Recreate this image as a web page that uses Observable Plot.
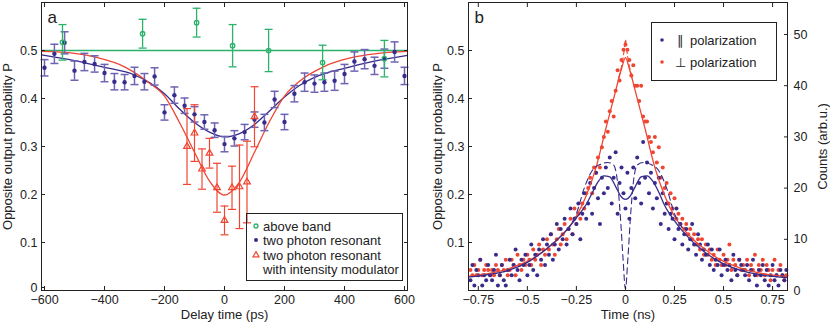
<!DOCTYPE html>
<html><head><meta charset="utf-8">
<script src="https://cdn.jsdelivr.net/npm/d3@7"></script>
<script src="https://cdn.jsdelivr.net/npm/@observablehq/plot@0.6"></script>
<style>
body{margin:0;background:#fff;font-family:"Liberation Sans",Arial,sans-serif;}
#wrap{position:relative;width:830px;height:325px;overflow:hidden;}
.panel{position:absolute;top:0;}
#overlay{position:absolute;left:0;top:0;pointer-events:none;}
</style></head><body>
<div id="wrap"><div id="pa" class="panel" style="left:0"></div><div id="pb" class="panel" style="left:415px"></div></div>
<script>
// ---------- Panel a data ----------
const bandDelay = [-540, -273, -93, 27, 147, 327, 533];
const bandP     = [0.517, 0.535, 0.558, 0.51, 0.5, 0.475, 0.483];
const bandErr   = [0.037, 0.03, 0.03, 0.044, 0.044, 0.036, 0.038];
const bandFitP  = 0.5;

const resDelay = [-600,-567,-533,-500,-467,-433,-400,-367,-333,-300,-267,-233,-200,-167,-133,-100,-67,-33,0,33,67,100,133,167,200,233,267,300,333,367,400,433,467,500,533,567,600];
const resP     = [0.464,0.493,0.516,0.458,0.476,0.472,0.453,0.435,0.434,0.447,0.435,0.446,0.371,0.407,0.385,0.367,0.351,0.334,0.305,0.317,0.330,0.356,0.350,0.398,0.351,0.410,0.434,0.431,0.434,0.437,0.451,0.477,0.482,0.468,0.483,0.497,0.447];
const resErr   = [0.017,0.02,0.023,0.02,0.018,0.017,0.018,0.017,0.016,0.018,0.017,0.018,0.016,0.017,0.016,0.016,0.015,0.015,0.016,0.016,0.016,0.016,0.017,0.017,0.016,0.017,0.019,0.018,0.019,0.02,0.02,0.02,0.02,0.018,0.02,0.021,0.018];
const resFitDelay = [-610,-500,-400,-300,-250,-200,-150,-100,-50,0,50,100,150,200,250,300,400,500,610];
const resFitP     = [0.491,0.479,0.465,0.449,0.433,0.410,0.378,0.350,0.330,0.320,0.327,0.346,0.374,0.403,0.427,0.444,0.463,0.478,0.490];

const modDelay = [-125,-100,-75,-50,-25,0,25,50,75,100];
const modP     = [0.300,0.328,0.253,0.286,0.214,0.146,0.214,0.216,0.226,0.362];
const modErr   = [0.079,0.059,0.042,0.031,0.051,0.030,0.045,0.087,0.085,0.0625];
const modFitDelay = [-610,-500,-430,-330,-250,-200,-150,-100,-50,0,50,100,150,200,250,330,430,500,610];
const modFitP     = [0.498,0.494,0.486,0.465,0.432,0.405,0.350,0.288,0.228,0.199,0.226,0.288,0.352,0.405,0.436,0.466,0.486,0.493,0.498];

const aXTicks = [-600,-400,-200,0,200,400,600];
const aYTicks = [0,0.1,0.2,0.3,0.4,0.5];

// ---------- Panel b data ----------
const binStart = -0.79, binStep = 0.01; // time bins (ns)
const perpCounts = [4,3,5,3,4,6,3,4,5,4,3,4,3,5,4,3,5,4,6,3,
  4,6,5,3,7,5,4,6,5,7, 6,5,8,6,7,9,5,8,7,10, 8,11,9,7,10,12,9,11,13,10,
  12,14,11,16,13,15,14,17,16,19, 20,22,19,24,23,26,24,28,30,33, 31,35,37,34,39,43,41,45,47,48,
  47,45,42,44,40,40,37,40,34,33, 33,30,29,27,30,25,28,22,24,20, 21,17,19,16,18,14,15,13,14,12,
  13,11,12,10,11,9,10,8,10,7, 9,7,8,6,7,5,8,6,5,7, 5,6,9,4,6,5,3,6,4,5, 4,6,3,5,4,7,3,5,4,6,
  3,5,4,2,4,6,3,4,5,3,2,3];
const parCounts = [2,5,1,4,3,6,1,3,2,5, 3,2,4,7,1,3,5,2,1,4,
  6,3,5,8,4,2,6,5,7,3, 5,9,4,7,3,8,6,10,5,9, 7,11,6,9,13,8,12,10,14,9,
  12,16,11,14,13,17,10,15,19,14, 17,21,15,20,23,18,13,22,19,24, 20,26,17,22,27,15,21,24,19,16,
  23,14,20,24,18,26,21,17,29,22, 25,19,23,16,21,18,22,13,19,15, 17,12,15,14,10,16,12,13,9,11,
  12,8,10,13,9,7,11,9,6,8, 7,9,5,8,4,6,5,8,3,5, 6,4,5,2,7,4,3,6,5,4, 3,5,2,4,6,3,1,4,3,5,
  2,4,1,3,5,2,3,1,4,3,2,4];
const perpFitT = [-0.80,-0.75,-0.70,-0.65,-0.60,-0.55,-0.50,-0.45,-0.40,-0.35,-0.30,-0.25,-0.20,-0.15,-0.10,-0.05,-0.02,0,0.02,0.05,0.10,0.15,0.20,0.25,0.30,0.35,0.40,0.45,0.50,0.55,0.60,0.65,0.70,0.75,0.80,0.826];
const perpFitC = [2.8,3.0,3.3,3.7,4.2,4.9,5.7,6.8,8.2,9.8,11.8,14.5,18.5,24,31.6,39,43.3,45.5,43.3,39,31.6,24,18.5,14.5,11.8,9.8,8.2,6.8,5.7,4.9,4.2,3.7,3.3,3.0,2.8,2.7];
const perpTheoryT = [-0.035,-0.02,-0.008,0,0.008,0.02,0.035];
const perpTheoryC = [41.5,43.8,46.5,49,46.5,43.8,41.5];
const parFitT = [-0.80,-0.70,-0.60,-0.50,-0.40,-0.30,-0.25,-0.20,-0.17,-0.14,-0.11,-0.08,-0.05,-0.025,0,0.025,0.05,0.08,0.11,0.14,0.17,0.20,0.25,0.30,0.40,0.50,0.60,0.70,0.826];
const parFitC = [2.6,3.1,3.9,5.5,8.2,11.8,14.2,16.8,19,21.2,22.4,22.2,20.3,18.5,17.8,18.5,20.3,22.2,22.4,21.3,19.2,16.6,13.6,11.2,7.6,5.2,3.8,3.0,2.5];
const parTheoryT = [-0.30,-0.25,-0.21,-0.17,-0.13,-0.09,-0.06,-0.04,-0.025,-0.012,0,0.012,0.025,0.04,0.06,0.09,0.13,0.17,0.21,0.25,0.30];
const parTheoryC = [11.8,15,20,23.4,24.6,25,24.5,21,14,6,0.3,6,14,21,24.5,25,24.6,23.4,20,15,11.8];

const bXTicks = [-0.75,-0.5,-0.25,0,0.25,0.5,0.75];
const bPTicks = [0.1,0.2,0.3,0.4,0.5];
const bCountTicks = [0,10,20,30,40,50];
const countsPerP = 93.75; // right (counts) axis vs left (P) axis

// ---------- styles ----------
const green = "#2bb36c", blue = "#372c8c", blueErr = "#6e64b3", red = "#ef4632";
const font = "Liberation Sans, Arial, Helvetica, sans-serif";
const cap = {draw(ctx, size){ const w = Math.sqrt(size/Math.PI); ctx.moveTo(-w,0); ctx.lineTo(w,0); }};
const minus = v => (v < 0 ? "\u2212" : "") + Math.abs(v);
const fmtP = d => d === 0 ? "0" : d.toFixed(1);
const errRows = (xs, ys, es) => xs.map((x,i) => ({x, y: ys[i], lo: ys[i]-es[i], hi: ys[i]+es[i]}));
const xyRows = (xs, ys) => xs.map((x,i) => ({x, y: ys[i]}));
function errMarks(rows, color, w){
  return [
    Plot.ruleX(rows, {x:"x", y1:"lo", y2:"hi", stroke: color, strokeWidth: w}),
    Plot.dot(rows, {x:"x", y:"lo", symbol: cap, r: 4, stroke: color, fill: "none", strokeWidth: w}),
    Plot.dot(rows, {x:"x", y:"hi", symbol: cap, r: 4, stroke: color, fill: "none", strokeWidth: w})
  ];
}

const band = errRows(bandDelay, bandP, bandErr);
const res = errRows(resDelay, resP, resErr);
const mod = errRows(modDelay, modP, modErr);

const pa = Plot.plot({
  width: 415, height: 325, marginLeft: 41, marginRight: 8, marginTop: 2, marginBottom: 35,
  x: {domain: [-610, 610]}, y: {domain: [0, 0.6]},
  style: {fontFamily: font, fontSize: "12.5px", color: "#222", background: "transparent"},
  marks: [
    Plot.ruleY([bandFitP], {stroke: green, strokeWidth: 1.5}),
    Plot.line(xyRows(resFitDelay, resFitP), {x:"x", y:"y", stroke: blue, strokeWidth: 1.3, curve: "monotone-x"}),
    Plot.line(xyRows(modFitDelay, modFitP), {x:"x", y:"y", stroke: red, strokeWidth: 1.3, curve: "monotone-x"}),
    ...errMarks(res, blueErr, 1.5),
    ...errMarks(mod, red, 1.2),
    ...errMarks(band, green, 1.3),
    Plot.dot(res, {x:"x", y:"y", r: 2.2, fill: blue}),
    Plot.dot(mod, {x:"x", y:"y", symbol: "triangle", r: 2.5, stroke: red, fill: "none", strokeWidth: 1.2}),
    Plot.dot(band, {x:"x", y:"y", r: 2.2, stroke: green, fill: "none", strokeWidth: 1.3}),
    Plot.frame({stroke: "#222"}),
    Plot.axisX({anchor: "bottom", ticks: aXTicks, tickSize: -4, tickPadding: 9, tickFormat: minus, label: null}),
    Plot.axisX({anchor: "top", ticks: aXTicks, tickSize: -4, tickFormat: () => "", label: null}),
    Plot.axisY({anchor: "left", ticks: aYTicks.slice(1), tickSize: -4, tickPadding: 8, tickFormat: fmtP, label: null}),
    Plot.axisY({anchor: "left", ticks: aYTicks.slice(0, 1), tickSize: -4, tickPadding: 8, dy: -3, tickFormat: fmtP, label: null}),
    Plot.axisY({anchor: "right", ticks: aYTicks, tickSize: -4, tickFormat: () => "", label: null}),
    Plot.text(["Delay time (ps)"], {frameAnchor: "bottom", dy: 28, textAnchor: "middle", fontSize: 13}),
    Plot.text(["Opposite output probability P"], {frameAnchor: "left", dx: -34, textAnchor: "middle", rotate: -90, fontSize: 13}),
    Plot.text(["a"], {frameAnchor: "top-left", dx: 6, dy: 8, textAnchor: "start", lineAnchor: "top", fontSize: 17})
  ]
});
document.getElementById("pa").append(pa);

const perp = perpCounts.map((c,i) => ({x: binStart + i*binStep, y: c}));
const par = parCounts.map((c,i) => ({x: binStart + i*binStep, y: c}));

const pb = Plot.plot({
  width: 415, height: 325, marginLeft: 53, marginRight: 43, marginTop: 2, marginBottom: 35,
  x: {domain: [-0.8, 0.826]}, y: {domain: [0, 0.6*countsPerP]},
  style: {fontFamily: font, fontSize: "12.5px", color: "#222", background: "transparent"},
  marks: [
    Plot.dot(perp, {x:"x", y:"y", r: 2, fill: red}),
    Plot.dot(par, {x:"x", y:"y", r: 2, fill: blue}),
    Plot.line(xyRows(perpFitT, perpFitC), {x:"x", y:"y", stroke: red, strokeWidth: 1.3, curve: "monotone-x"}),
    Plot.line(xyRows(parFitT, parFitC), {x:"x", y:"y", stroke: blue, strokeWidth: 1.3, curve: "monotone-x"}),
    Plot.line(xyRows(parTheoryT, parTheoryC), {x:"x", y:"y", stroke: blue, strokeWidth: 1.1, strokeDasharray: "6,4", curve: "monotone-x"}),
    Plot.line(xyRows(perpTheoryT, perpTheoryC), {x:"x", y:"y", stroke: red, strokeWidth: 1.1, strokeDasharray: "5,3", curve: "monotone-x"}),
    Plot.frame({stroke: "#222"}),
    Plot.axisX({anchor: "bottom", ticks: bXTicks, tickSize: -4, tickPadding: 9, tickFormat: minus, label: null}),
    Plot.axisX({anchor: "top", ticks: bXTicks, tickSize: -4, tickFormat: () => "", label: null}),
    Plot.axisY({anchor: "left", ticks: bPTicks.map(p => p*countsPerP), tickSize: -4, tickPadding: 8, tickFormat: d => (d/countsPerP).toFixed(1), label: null}),
    Plot.axisY({anchor: "right", ticks: bCountTicks, tickSize: -4, tickPadding: 10, tickFormat: d => String(d), label: null}),
    Plot.text(["Time (ns)"], {frameAnchor: "bottom", dy: 28, textAnchor: "middle", fontSize: 13}),
    Plot.text(["Opposite output probability P"], {frameAnchor: "left", dx: -31, textAnchor: "middle", rotate: -90, fontSize: 13}),
    Plot.text(["Counts (arb.u.)"], {frameAnchor: "right", dx: 35, textAnchor: "middle", rotate: -90, fontSize: 13}),
    Plot.text(["b"], {frameAnchor: "top-left", dx: 6, dy: 8, textAnchor: "start", lineAnchor: "top", fontSize: 17})
  ]
});
document.getElementById("pb").append(pb);

// ---------- legends (overlay) ----------
const legendA = ["above band", "two photon resonant", "two photon resonant", "with intensity modulator"];
const legendB = ["\u2225", "\u22A5"];
const NS = "http://www.w3.org/2000/svg";
const ov = document.createElementNS(NS, "svg");
ov.setAttribute("id", "overlay"); ov.setAttribute("width", 830); ov.setAttribute("height", 325);
ov.setAttribute("font-family", font); ov.setAttribute("font-size", "13"); ov.setAttribute("fill", "#222");
ov.innerHTML = `
<rect x="246.5" y="213.5" width="156" height="67" fill="none" stroke="#222" stroke-width="1"/>
<circle cx="256" cy="226" r="2" fill="none" stroke="${green}" stroke-width="1.3"/>
<circle cx="256" cy="240" r="2" fill="${blue}"/>
<path d="M256,251.6 L259,256.8 L253,256.8 Z" fill="none" stroke="${red}" stroke-width="1.2"/>
<text x="263" y="226" dy="0.35em">${legendA[0]}</text>
<text x="263" y="240" dy="0.35em">${legendA[1]}</text>
<text x="263" y="255" dy="0.35em">${legendA[2]}</text>
<text x="263" y="269" dy="0.35em">${legendA[3]}</text>
<rect x="651.5" y="22.5" width="125" height="58" fill="none" stroke="#222" stroke-width="1"/>
<circle cx="662" cy="40" r="1.8" fill="${blue}"/>
<circle cx="662" cy="62" r="1.8" fill="${red}"/>
<text x="680" y="40" dy="0.35em" text-anchor="middle" font-weight="normal">${legendB[0]}</text>
<text x="690" y="40" dy="0.35em">polarization</text>
<text x="680" y="62" dy="0.35em" text-anchor="middle">${legendB[1]}</text>
<text x="690" y="62" dy="0.35em">polarization</text>`;
document.getElementById("wrap").append(ov);
</script>
</body></html>
